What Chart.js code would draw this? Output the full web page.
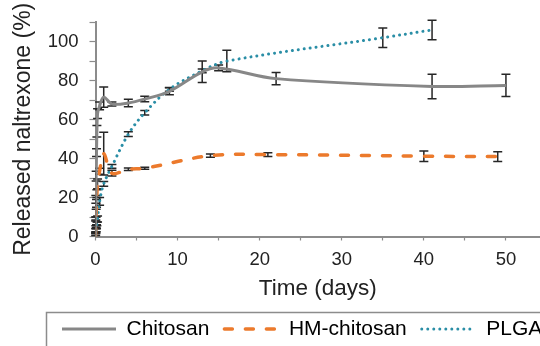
<!DOCTYPE html>
<html>
<head>
<meta charset="utf-8">
<script src="https://cdn.jsdelivr.net/npm/chart.js@4.4.1/dist/chart.umd.min.js"></script>
<style>
  html, body { margin: 0; padding: 0; background: #fff; }
  #wrap { width: 540px; height: 346px; position: relative; }
</style>
</head>
<body>
<div id="wrap"><canvas id="releaseChart"></canvas></div>
<script>
// cumulative naltrexone release (%) vs time (days)
const seriesNames = ['Chitosan', 'HM-chitosan', 'PLGA'];

const chitosanDays   = [0, 0.02, 0.04, 0.08, 0.125, 0.17, 0.25, 0.5, 1, 2, 4, 6, 9, 13, 15, 22, 41, 50];
const chitosanValues = [0, 9, 19, 31, 43, 54, 63, 67, 71.5, 68, 68.5, 70.5, 74.5, 84.5, 86.5, 81, 77, 77.5];
const chitosanErrors = [0, 1, 2, 2.5, 2, 3, 2.5, 2, 5.2, 1, 1.9, 1.4, 1.8, 5.5, 1.5, 3.2, 6.3, 5.7];

const hmDays   = [0, 0.02, 0.04, 0.08, 0.125, 0.17, 0.25, 0.5, 1, 2, 4, 6, 14, 21, 40, 49];
const hmValues = [0, 3, 7, 12, 17, 22, 27, 33.5, 42.5, 32.5, 34.5, 35, 41.5, 42, 41.2, 41];
const hmErrors = [0, 1, 1.5, 2, 2, 2, 2.5, 1.5, 11, 1.5, 0.6, 0.5, 0.8, 1, 2.7, 2.5];

const plgaDays   = [0, 0.02, 0.04, 0.08, 0.125, 0.17, 0.25, 0.5, 1, 2, 4, 6, 9, 13, 16, 35, 41];
const plgaValues = [0, 1, 2, 3.5, 5, 6.5, 9, 18, 27, 36, 52.5, 63.5, 75.5, 85, 90, 102, 106];
const plgaErrors = [0, 0.5, 0.5, 1, 1, 1, 1.5, 2, 1.2, 1, 1.2, 1.2, 1, 1, 5.5, 5, 5];

const xTickLabels = [0, 10, 20, 30, 40, 50];
const yTickLabels = [0, 20, 40, 60, 80, 100];

const FONT = 'Liberation Sans, Arial, sans-serif';
const AXIS_GREY = '#8c8c8c';

function toPoints(days, values) {
    return days.map((d, i) => ({ x: d, y: values[i] }));
}

const errorSets = [chitosanErrors, hmErrors, plgaErrors];

// vertical error bars with caps, drawn under the lines
const errorBars = {
    id: 'errorBars',
    beforeDatasetsDraw(chart) {
        const { ctx, scales: { x, y } } = chart;
        ctx.save();
        ctx.strokeStyle = '#262626';
        ctx.lineWidth = 1.5;
        chart.data.datasets.forEach((ds, di) => {
            const errs = errorSets[di];
            ds.data.forEach((pt, i) => {
                const e = errs[i];
                if (!e) return;
                const px = x.getPixelForValue(pt.x);
                const top = y.getPixelForValue(pt.y + e);
                const bot = y.getPixelForValue(pt.y - e);
                ctx.beginPath();
                ctx.moveTo(px, top); ctx.lineTo(px, bot);
                ctx.moveTo(px - 4.5, top); ctx.lineTo(px + 4.5, top);
                ctx.moveTo(px - 4.5, bot); ctx.lineTo(px + 4.5, bot);
                ctx.stroke();
            });
        });
        ctx.restore();
    }
};

// legend sits a bit right of the canvas centre, inside a grey frame
const legendFrame = {
    id: 'legendFrame',
    afterLayout(chart) {
        chart.legend.left += 47;
        chart.legend.right += 47;
    },
    afterDraw(chart) {
        const { ctx } = chart;
        ctx.save();
        ctx.strokeStyle = AXIS_GREY;
        ctx.lineWidth = 1.5;
        ctx.strokeRect(46.5, Math.round(chart.legend.top) + 8.5, 700, 100);
        ctx.restore();
    }
};

const ctx = document.getElementById('releaseChart').getContext('2d');

new Chart(ctx, {
    type: 'line',
    data: {
        datasets: [
            {
                label: seriesNames[0],
                data: toPoints(chitosanDays, chitosanValues),
                borderColor: '#878787',
                borderWidth: 3,
                tension: 0.35
            },
            {
                label: seriesNames[1],
                data: toPoints(hmDays, hmValues),
                borderColor: '#ec7a2c',
                borderWidth: 3.5,
                borderDash: [8, 13],
                borderCapStyle: 'round',
                tension: 0.35
            },
            {
                label: seriesNames[2],
                data: toPoints(plgaDays, plgaValues),
                borderColor: '#2a8ea6',
                borderWidth: 3,
                borderDash: [0.01, 6],
                borderCapStyle: 'round',
                tension: 0.35
            }
        ]
    },
    options: {
        responsive: true,
        maintainAspectRatio: false,
        animation: false,
        events: [],
        elements: { point: { radius: 0, hitRadius: 0 } },
        layout: { padding: { top: 13.5, left: 0, right: 0, bottom: -3.5 } },
        scales: {
            x: {
                type: 'linear',
                min: 0,
                max: 54.15,
                afterFit: s => { s.height = 67; },
                border: { color: AXIS_GREY, width: 2 },
                grid: { drawOnChartArea: false, color: AXIS_GREY, tickLength: 4, tickWidth: 1.2 },
                ticks: {
                    stepSize: 5,
                    includeBounds: false,
                    autoSkip: false,
                    maxRotation: 0,
                    padding: 8.7,
                    color: '#222',
                    font: { family: FONT, size: 18.5 },
                    callback: v => xTickLabels.includes(v) ? String(v) : ''
                },
                title: {
                    display: true,
                    text: 'Time (days)',
                    color: '#222',
                    font: { family: FONT, size: 22.5 },
                    padding: { top: -4.5, bottom: 1 }
                }
            },
            y: {
                min: 0,
                max: 110,
                afterFit: s => { s.width = 95.5; },
                border: { color: AXIS_GREY, width: 2 },
                grid: { drawOnChartArea: false, color: AXIS_GREY, tickLength: 6, tickWidth: 1.2 },
                ticks: {
                    stepSize: 10,
                    autoSkip: false,
                    padding: 11,
                    color: '#222',
                    font: { family: FONT, size: 18.5 },
                    callback: v => yTickLabels.includes(v) ? String(v) : ''
                },
                title: {
                    display: true,
                    text: 'Released naltrexone (%)',
                    color: '#222',
                    font: { family: FONT, size: 23 },
                    padding: { top: 9.5, bottom: 0 }
                }
            }
        },
        plugins: {
            tooltip: { enabled: false },
            legend: {
                display: true,
                position: 'bottom',
                align: 'start',
                labels: {
                    usePointStyle: true,
                    pointStyleWidth: 54,
                    padding: 15,
                    color: '#222',
                    font: { family: FONT, size: 21 },
                    generateLabels: chart => chart.data.datasets.map((ds, i) => ({
                        text: ds.label,
                        datasetIndex: i,
                        pointStyle: 'line',
                        strokeStyle: ds.borderColor,
                        fillStyle: ds.borderColor,
                        lineWidth: ds.borderWidth,
                        lineDash: ds.borderDash || [],
                        lineCap: ds.borderCapStyle || 'butt',
                        hidden: false
                    }))
                }
            }
        }
    },
    plugins: [errorBars, legendFrame]
});
</script>
</body>
</html>
